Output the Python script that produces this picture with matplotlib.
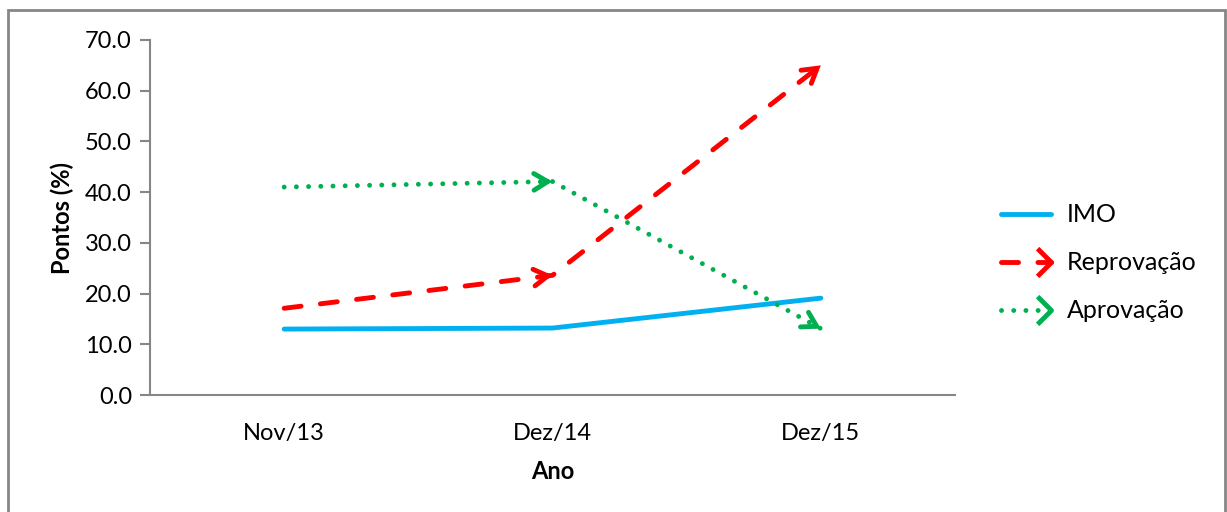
import matplotlib
matplotlib.use('Agg')
import matplotlib.pyplot as plt
from matplotlib.lines import Line2D
from matplotlib.path import Path
from matplotlib.patches import Rectangle
from matplotlib.legend_handler import HandlerLine2D

plt.rcParams['font.family'] = ['Lato', 'DejaVu Sans']

anos = ['Nov/13', 'Dez/14', 'Dez/15']
imo = [13.0, 13.2, 19.1]
reprovacao = [17.1, 23.6, 65.0]
aprovacao = [41.0, 42.1, 13.1]

AZUL = '#00B0F0'
VERMELHO = '#FF0000'
VERDE = '#00B050'
CINZA = '#868686'
LW = 3.5
FS = 17

fig = plt.figure(figsize=(12.27, 5.12), dpi=100)
ax = fig.add_axes([150 / 1227, 117 / 512, 805 / 1227, 355 / 512])

x = list(range(len(anos)))

ax.plot(x, imo, color=AZUL, lw=LW, solid_capstyle='round')
ax.plot(x, reprovacao, color=VERMELHO, lw=LW, dashes=(3.5, 4.0), dash_capstyle='round')
ax.plot(x, aprovacao, color=VERDE, lw=LW, dashes=(0.01, 2.5), dash_capstyle='round')


def add_heads(ax, xs, ys, color):
    # open arrow head at the end of each segment
    for i in range(1, len(xs)):
        x0, y0 = xs[i - 1], ys[i - 1]
        x1, y1 = xs[i], ys[i]
        xt = x1 - (x1 - x0) * 0.02
        yt = y1 - (y1 - y0) * 0.02
        ax.annotate('', xy=(x1, y1), xytext=(xt, yt),
                    arrowprops=dict(arrowstyle='->,head_length=1.0,head_width=0.6',
                                    color=color, lw=LW, shrinkA=0, shrinkB=0,
                                    joinstyle='miter', capstyle='round'))


add_heads(ax, x, reprovacao, VERMELHO)
add_heads(ax, x, aprovacao, VERDE)

ax.set_xlim(-0.5, len(anos) - 0.5)
ax.set_ylim(0, 70)
ax.set_yticks(range(0, 71, 10))
ax.set_yticklabels([f'{v:.1f}' for v in range(0, 71, 10)])
ax.set_xticks(x)
ax.set_xticklabels(anos)

for s in ['top', 'right']:
    ax.spines[s].set_visible(False)
for s in ['left', 'bottom']:
    ax.spines[s].set_color(CINZA)
    ax.spines[s].set_linewidth(1.5)
ax.tick_params(axis='y', length=7, width=1.5, color=CINZA, labelsize=FS, pad=6)
ax.tick_params(axis='x', length=0, labelsize=FS, pad=20)

ax.set_ylabel('Pontos (%)', fontsize=FS, fontweight='bold', labelpad=8)
ax.set_xlabel('Ano', fontsize=FS, fontweight='bold', labelpad=12)


class HandlerEndMarker(HandlerLine2D):
    # legend line with the marker only at its right end
    def create_artists(self, legend, orig_handle, xdescent, ydescent,
                       width, height, fontsize, trans):
        arts = super().create_artists(legend, orig_handle, xdescent, ydescent,
                                      width, height, fontsize, trans)
        for a in arts:
            n = len(a.get_xdata())
            a.set_markevery([n - 1])
        return arts


chevron = Path([(-1, 1), (0, 0), (-1, -1)], [Path.MOVETO, Path.LINETO, Path.LINETO])
handles = [
    Line2D([], [], color=AZUL, lw=LW, solid_capstyle='round'),
    Line2D([], [], color=VERMELHO, lw=LW, dashes=(3.5, 4.0), dash_capstyle='round',
           marker=chevron, markersize=20, markeredgewidth=LW, markerfacecolor='none'),
    Line2D([], [], color=VERDE, lw=LW, dashes=(0.01, 2.5), dash_capstyle='round',
           marker=chevron, markersize=20, markeredgewidth=LW, markerfacecolor='none'),
]
fig.legend(handles, ['IMO', 'Reprovação', 'Aprovação'], loc='center left',
           bbox_to_anchor=(993 / 1227, 1 - 263 / 512), frameon=False, fontsize=FS + 1,
           numpoints=2, handlelength=2.6, handletextpad=0.35, labelspacing=1.0,
           borderpad=0, borderaxespad=0,
           handler_map={Line2D: HandlerEndMarker()})

fig.patches.append(Rectangle((8 / 1227, -0.02), 1217 / 1227, 1 - 10 / 512 + 0.02,
                             transform=fig.transFigure, fill=False,
                             edgecolor=CINZA, lw=2))

fig.savefig('out.png', dpi=100)
